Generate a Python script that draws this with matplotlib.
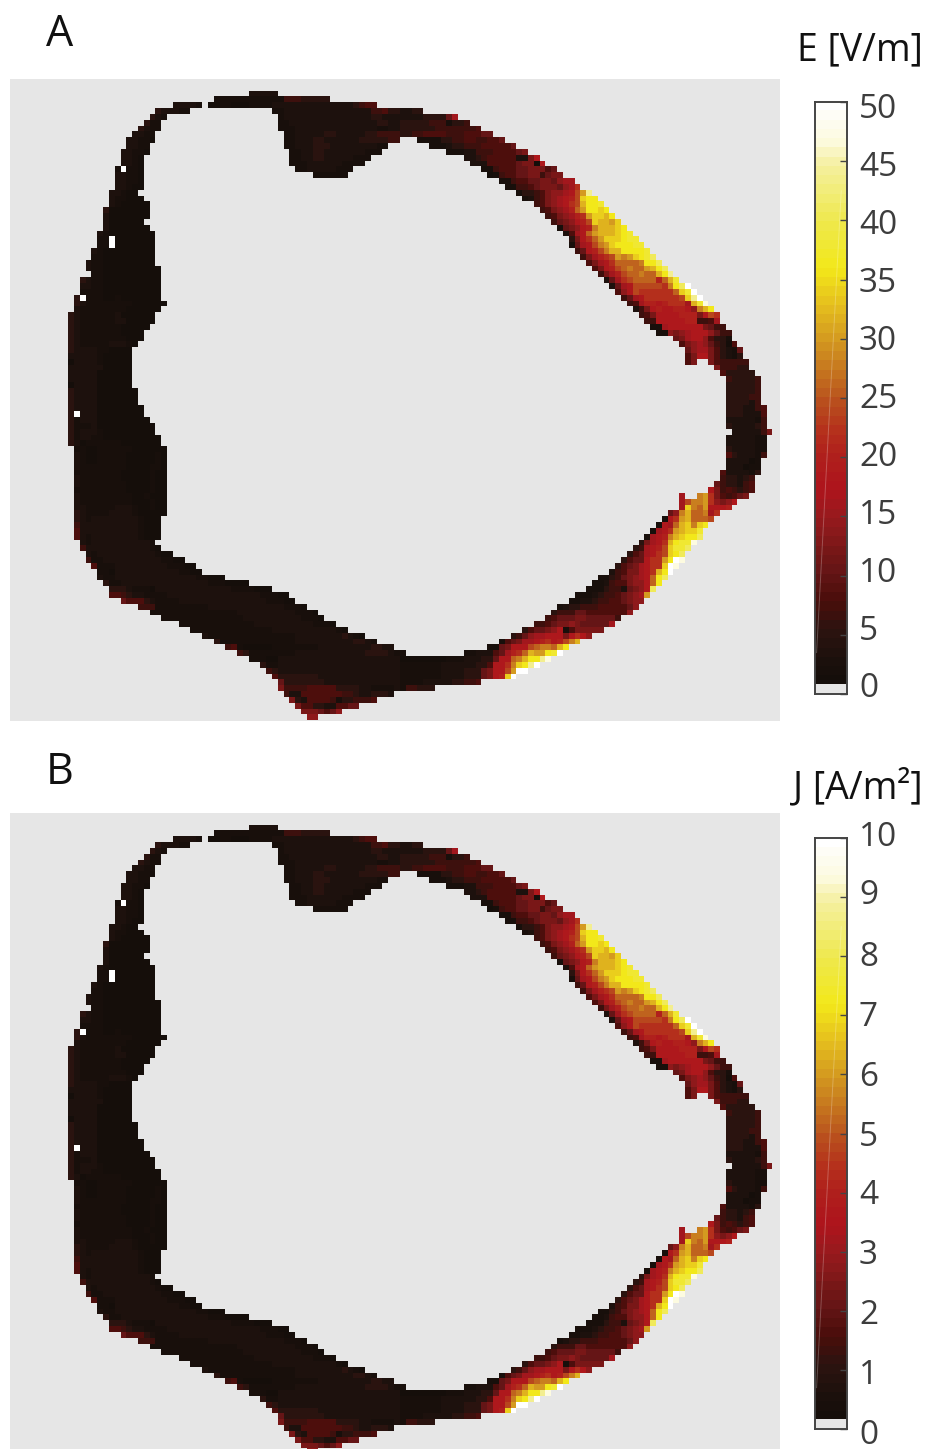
import numpy as np
import matplotlib
matplotlib.use("Agg")
import matplotlib.pyplot as plt
from matplotlib.colors import LinearSegmentedColormap

W, H = 929, 1449

# colormap, value as a fraction of the range
CMAP_POS = [0.0, 0.05, 0.10, 0.15, 0.20, 0.24, 0.30, 0.34, 0.40, 0.44, 0.50, 0.60, 0.66, 0.72, 0.80, 0.90, 0.94, 1.0]
CMAP_COL = ["#120d09", "#1c110d", "#2c1410", "#4a0e0b", "#651516", "#7a1818", "#9a1a1e", "#ae141c", "#b0201c",
            "#b5301c", "#ba551e", "#d49a20", "#e6c01e", "#f3e81a", "#efe94a", "#f5f0a0", "#fdfbe0", "#ffffff"]

# codes used in the cell rows below, with the value of each code
# panel B reads the same cell for cell as panel A, only on its own scale
CODES = "0123456789abcdefghijklmno"
E_LEVELS = [0.8, 1.6, 2.8, 4.8, 6.5, 8, 10, 12, 14, 16, 18, 20, 22, 24, 26, 28, 30, 32, 34, 36, 38, 41, 44, 47, 50]
J_LEVELS = [0.16, 0.32, 0.56, 0.96, 1.3, 1.6, 2, 2.4, 2.8, 3.2, 3.6, 4, 4.4, 4.8, 5.2, 5.6, 6, 6.4, 6.8, 7.2, 7.6, 8.2, 8.8, 9.4, 10]

E_TICKS = [0, 5, 10, 15, 20, 25, 30, 35, 40, 45, 50]
J_TICKS = [0, 1, 2, 3, 4, 5, 6, 7, 8, 9, 10]

# (row, first column, codes) for every run of tissue cells
CELL_ROWS = [
    (2, 41, "22222"),
    (3, 35, "11111111111144433333"),
    (4, 28, "22221"),
    (4, 34, "00110001111222222222222223455"),
    (5, 25, "322211"),
    (5, 45, "11222222222222222445332233"),
    (6, 24, "321"),
    (6, 46, "1222222222222222332222222333369"),
    (7, 23, "311"),
    (7, 46, "112222222222222223322333334441334"),
    (8, 22, "3211"),
    (8, 46, "11122222222222222112233333344444445"),
    (9, 21, "2211"),
    (9, 47, "112222233222223344443344555544455566"),
    (10, 20, "22110"),
    (10, 47, "11222332222223333344"),
    (10, 70, "111133445544556"),
    (11, 20, "2211"),
    (11, 47, "112223332222222211"),
    (11, 72, "111233444555556"),
    (12, 19, "22110"),
    (12, 48, "1122332222222111"),
    (12, 75, "11122444555567"),
    (13, 19, "2210"),
    (13, 48, "11223322222111"),
    (13, 78, "223455555227a"),
    (14, 19, "2210"),
    (14, 48, "1112222221111"),
    (14, 79, "222555556770a"),
    (15, 18, "1o110"),
    (15, 49, "1122222111"),
    (15, 81, "1145556677756"),
    (16, 18, "22110"),
    (16, 52, "111111"),
    (16, 82, "0145566774677"),
    (17, 18, "22110"),
    (17, 84, "1145566776899"),
    (18, 18, "22100"),
    (18, 85, "114456777689c"),
    (19, 17, "22100"),
    (19, 87, "133457889adgm"),
    (20, 17, "211000"),
    (20, 88, "1245789abdijj"),
    (21, 17, "2100000"),
    (21, 90, "45789acdhjjk"),
    (22, 16, "30000000"),
    (22, 91, "45789begjjij"),
    (23, 16, "20000000"),
    (23, 92, "45789bcgiihj"),
    (24, 16, "2000000"),
    (24, 93, "4678abdihhgi"),
    (25, 16, "20000000"),
    (25, 94, "1678abfhhhij"),
    (26, 15, "2100000000"),
    (26, 95, "259aeghhhijk"),
    (27, 15, "11o0000000"),
    (27, 96, "37acegiiijkk"),
    (28, 15, "11o0000000"),
    (28, 96, "169adfgijjjkk"),
    (29, 14, "21000000000"),
    (29, 97, "46abdfhhjjjjk"),
    (30, 14, "11000000000"),
    (30, 98, "479bcdgfgijkl"),
    (31, 13, "211000000000"),
    (31, 99, "579aceeeefjjl"),
    (32, 13, "2110000000000"),
    (32, 100, "57abdefeeghjl"),
    (33, 14, "110000000000"),
    (33, 101, "479bdeefeehjm"),
    (34, 12, "32110000000000"),
    (34, 102, "269cdeeeebehk"),
    (35, 12, "22110000000000"),
    (35, 103, "269adddddcfjlo"),
    (36, 12, "11110000000000"),
    (36, 104, "58adcccccceiko"),
    (37, 11, "3o1110010000000"),
    (37, 105, "469accccccdimo"),
    (38, 11, "3211111111000000"),
    (38, 106, "459bbabccc9hkn"),
    (39, 11, "211111111000000"),
    (39, 107, "247abaabba8fhj"),
    (40, 10, "321111112000000"),
    (40, 108, "457aaaabbb7adc"),
    (41, 10, "321111112200000"),
    (41, 109, "44aaaaabb4459"),
    (42, 10, "32111111100000"),
    (42, 110, "119aaaaaa7644"),
    (43, 10, "3211111110000"),
    (43, 111, "118789aaa8644"),
    (44, 10, "3211111111000"),
    (44, 114, "679aa85331"),
    (45, 10, "321111122210"),
    (45, 115, "5789864305"),
    (46, 10, "32222110000"),
    (46, 116, "6899753216"),
    (47, 10, "22222100000"),
    (47, 116, "57aa753213"),
    (48, 10, "02222100000"),
    (48, 116, "57"),
    (48, 120, "7544444"),
    (49, 10, "22222200000"),
    (49, 121, "744433"),
    (50, 10, "22222000000"),
    (50, 122, "533333"),
    (51, 10, "22222000000"),
    (51, 123, "433334"),
    (52, 10, "02222000000"),
    (52, 123, "333334"),
    (53, 10, "322220000000"),
    (53, 123, "333334"),
    (54, 10, "322220000000"),
    (54, 123, "333344"),
    (55, 10, "322220000000"),
    (55, 123, "333324"),
    (56, 10, "3222200000000"),
    (56, 123, "3332245"),
    (57, 10, "3o22200000000"),
    (57, 123, "3332225"),
    (58, 10, "31222000000000"),
    (58, 123, "2222214"),
    (59, 10, "311120000000000"),
    (59, 123, "3222234"),
    (60, 10, "312221000000000"),
    (60, 124, "2222247"),
    (61, 10, "3122110000000000"),
    (61, 123, "2222211"),
    (62, 10, "3201111110000000"),
    (62, 123, "2222211"),
    (63, 11, "1100111111000000"),
    (63, 123, "3222211"),
    (64, 11, "2100111110000010"),
    (64, 123, "5322214"),
    (65, 11, "2100111110000010"),
    (65, 123, "222201"),
    (66, 11, "2111111110000110"),
    (66, 123, "222011"),
    (67, 11, "1111111100000100"),
    (67, 122, "5222213"),
    (68, 11, "2111111100000100"),
    (68, 122, "433234"),
    (69, 11, "2111111110000100"),
    (69, 121, "6433245"),
    (70, 11, "1111111110000100"),
    (70, 120, "a7454345"),
    (71, 11, "2111111111001000"),
    (71, 115, "9"),
    (71, 118, "fgc754567"),
    (72, 11, "2111111111000100"),
    (72, 115, "9dffgc878a"),
    (73, 11, "2211111222100100"),
    (73, 115, "9ifegaaab"),
    (74, 11, "3211112222100000"),
    (74, 113, "68fheef9c"),
    (75, 11, "321222222221000"),
    (75, 112, "1acgheeed"),
    (76, 11, "422222222221000"),
    (76, 111, "1a9ehifij"),
    (77, 11, "522222222221000"),
    (77, 110, "19acghiik"),
    (78, 11, "521222222221000"),
    (78, 109, "19abfhijjl"),
    (79, 12, "2122222222221"),
    (79, 108, "379achjkkn"),
    (80, 12, "42222222222210"),
    (80, 107, "349abdikkl"),
    (81, 13, "212222222222100"),
    (81, 106, "3569acdijl"),
    (82, 13, "41122222222221100"),
    (82, 105, "3566accgjon"),
    (83, 14, "511122222222211100"),
    (83, 104, "35679accion"),
    (84, 15, "110222222222221100"),
    (84, 103, "245779achjo"),
    (85, 15, "2112222222222222211000"),
    (85, 101, "11346789aejl"),
    (86, 16, "3112222222222222221110000"),
    (86, 100, "112455788aej"),
    (87, 17, "3332111022222222222221111000"),
    (87, 99, "1113442678al"),
    (88, 17, "5543221111222222222222222211100"),
    (88, 97, "111234456789g"),
    (89, 19, "655532111122222222222222211100"),
    (89, 96, "1122344556788"),
    (90, 22, "44411111111122222222222221110"),
    (90, 94, "12334445555568"),
    (91, 24, "11111111111111122222222221110"),
    (91, 93, "34446655555558"),
    (92, 26, "1111111111111122222222221110"),
    (92, 92, "4566677666664"),
    (93, 29, "111111111111122222222221110"),
    (93, 90, "44567787666669"),
    (94, 31, "111111111111112222222222210"),
    (94, 88, "356678a1577777"),
    (95, 33, "2111111111111111222222223210"),
    (95, 86, "346899aaa7aca8"),
    (96, 35, "3111111111111122222222223321"),
    (96, 84, "156799abcabdfh"),
    (97, 37, "45100000111111112222222223322"),
    (97, 82, "1167aaadeffehj"),
    (98, 39, "43111111112222222222223333211"),
    (98, 78, "11222569bcehggjko"),
    (99, 41, "111002222222222222222222220000000011122233" "6aaefhjjmn"),
    (100, 43, "311222222222222222222222" "111111122222233" "5aacfijmo"),
    (101, 44, "43222222222222222222222" "11111112222333" "67aadgoo"),
    (102, 45, "5333333322222222222222" "11111112222333" "67abio"),
    (103, 46, "633333332222222222222" "11112222233445"),
    (104, 46, "744445555533332211112" "144333"),
    (105, 47, "4225555555443223332"),
    (106, 48, "732555541334445"),
    (107, 49, "75533225566"),
    (108, 50, "7776568"),
    (109, 51, "88"),
]

NCOLS, NROWS = 133, 111
CELL_W, CELL_H = 5.82, 5.83


def build_grid(levels):
    grid = np.full((NROWS, NCOLS), np.nan)
    for row, col, codes in CELL_ROWS:
        for i, ch in enumerate(codes):
            grid[row, col + i] = levels[CODES.index(ch)]
    return grid


def px_axes(fig, x0, y0, x1, y1):
    # pixel box measured from the top left of the picture
    return fig.add_axes([x0 / W, 1 - y1 / H, (x1 - x0) / W, (y1 - y0) / H])


def draw_map(fig, top, levels, vmax, cmap):
    ax = px_axes(fig, 10, top, 780, top + 642)
    ax.set_facecolor("#e6e6e6")
    ax.imshow(build_grid(levels), cmap=cmap, vmin=0, vmax=vmax, aspect="auto",
              interpolation="nearest", extent=(0, NCOLS, NROWS, 0))
    ax.set_xlim(0, 770 / CELL_W)
    ax.set_ylim(642 / CELL_H, 0)
    ax.set_xticks([])
    ax.set_yticks([])
    for s in ax.spines.values():
        s.set_visible(False)


def draw_colorbar(fig, top, bottom, ticks, cmap, label_ys):
    vmax = ticks[-1]
    ax = px_axes(fig, 815, top, 847, bottom)
    grad = np.linspace(1, 0, 64).reshape(-1, 1)
    ax.imshow(grad, cmap=cmap, vmin=0, vmax=1, aspect="auto", extent=(0, 1, 0, vmax), interpolation="nearest")
    ax.axhspan(0, vmax * 10 / (bottom - top), color="#e6e6e6", lw=0)
    # the faint light streak across the bar
    ax.plot([0.05, 0.82], [vmax * 0.07, vmax * 0.85], color="white", alpha=0.25, lw=0.7)
    ax.set_xlim(0, 1)
    ax.set_ylim(0, vmax)
    ax.set_xticks([])
    ax.yaxis.tick_right()
    ax.set_yticks(ticks)
    ax.set_yticklabels([])
    ax.tick_params(axis="y", direction="in", length=5, width=1, color="#444444")
    for s in ax.spines.values():
        s.set_color("#444444")
        s.set_linewidth(1.4)
    for t, y in zip(ticks, label_ys):
        fig.text(859 / W, 1 - y / H, str(t), fontsize=24, color="#3d3d3d", va="center", ha="left")


plt.rcParams["font.family"] = ["Open Sans", "DejaVu Sans"]
cmap = LinearSegmentedColormap.from_list("hotred", list(zip(CMAP_POS, CMAP_COL)), N=256)

fig = plt.figure(figsize=(W / 100, H / 100), dpi=100)

draw_map(fig, 79, E_LEVELS, 50, cmap)
draw_map(fig, 813, J_LEVELS, 10, cmap)

draw_colorbar(fig, 102, 694, E_TICKS, cmap,
              [689, 631, 573, 516, 458, 400, 342, 284, 226, 168, 110])
draw_colorbar(fig, 838, 1429, J_TICKS, cmap,
              [1435, 1376, 1315, 1256, 1196, 1137, 1077, 1017, 957, 896, 837])

fig.text(46 / W, 1 - 35 / H, "A", fontsize=31, color="#111111", va="center", ha="left")
fig.text(46 / W, 1 - 773 / H, "B", fontsize=31, color="#111111", va="center", ha="left")
fig.text(923 / W, 1 - 50 / H, "E [V/m]", fontsize=27, color="#111111", va="center", ha="right")
fig.text(923 / W, 1 - 788 / H, "J [A/m²]", fontsize=27, color="#111111", va="center", ha="right")

fig.savefig("out.png", dpi=100)
